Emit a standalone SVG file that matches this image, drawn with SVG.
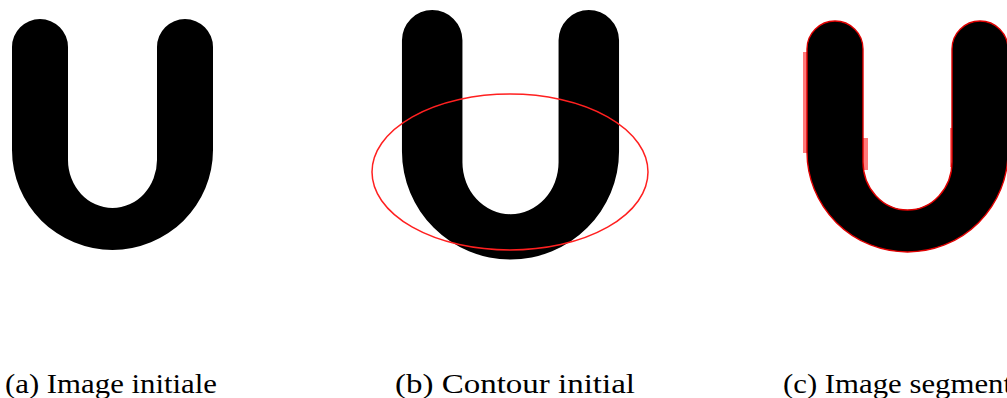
<svg xmlns="http://www.w3.org/2000/svg" width="1007" height="398" viewBox="0 0 1007 398">
  <style>
    .cap { font-family: "Liberation Serif", "DejaVu Serif", serif; font-size: 28px; fill: #000; }
    .u { fill: #000; }
    .seg { fill: #000; stroke: #e00000; stroke-width: 1.4; }
    .pink { fill: #ff7a7a; }
  </style>
  <defs>
    <path id="U" d="M 12 47 A 28 28 0 0 1 68 47 L 68 160 A 44.5 48 0 0 0 157 160 L 157 47 A 28 28 0 0 1 213 47 L 213 150 A 100.5 100 0 0 1 12 150 Z"/>
  </defs>
  <rect width="1007" height="398" fill="#fff"/>

  <g id="panel-a">
    <use href="#U" class="u"/>
    <text class="cap" x="5" y="393" textLength="212" lengthAdjust="spacingAndGlyphs">(a) Image initiale</text>
  </g>

  <g id="panel-b">
    <use href="#U" class="u" transform="translate(389,-10.5) scale(1.08)"/>
    <ellipse cx="510" cy="172" rx="138" ry="78" fill="none" stroke="#ff2020" stroke-width="1.5"/>
    <text class="cap" x="395" y="393" textLength="240" lengthAdjust="spacingAndGlyphs">(b) Contour initial</text>
  </g>

  <g id="panel-c">
    <rect class="pink" x="803" y="52" width="6" height="101"/>
    <rect class="pink" x="862" y="138" width="6" height="32"/>
    <rect class="pink" x="950" y="128" width="5" height="39"/>
    <use href="#U" class="seg" transform="translate(795,2)"/>
    <text class="cap" x="783" y="393" textLength="229" lengthAdjust="spacingAndGlyphs">(c) Image segment</text>
  </g>
</svg>
